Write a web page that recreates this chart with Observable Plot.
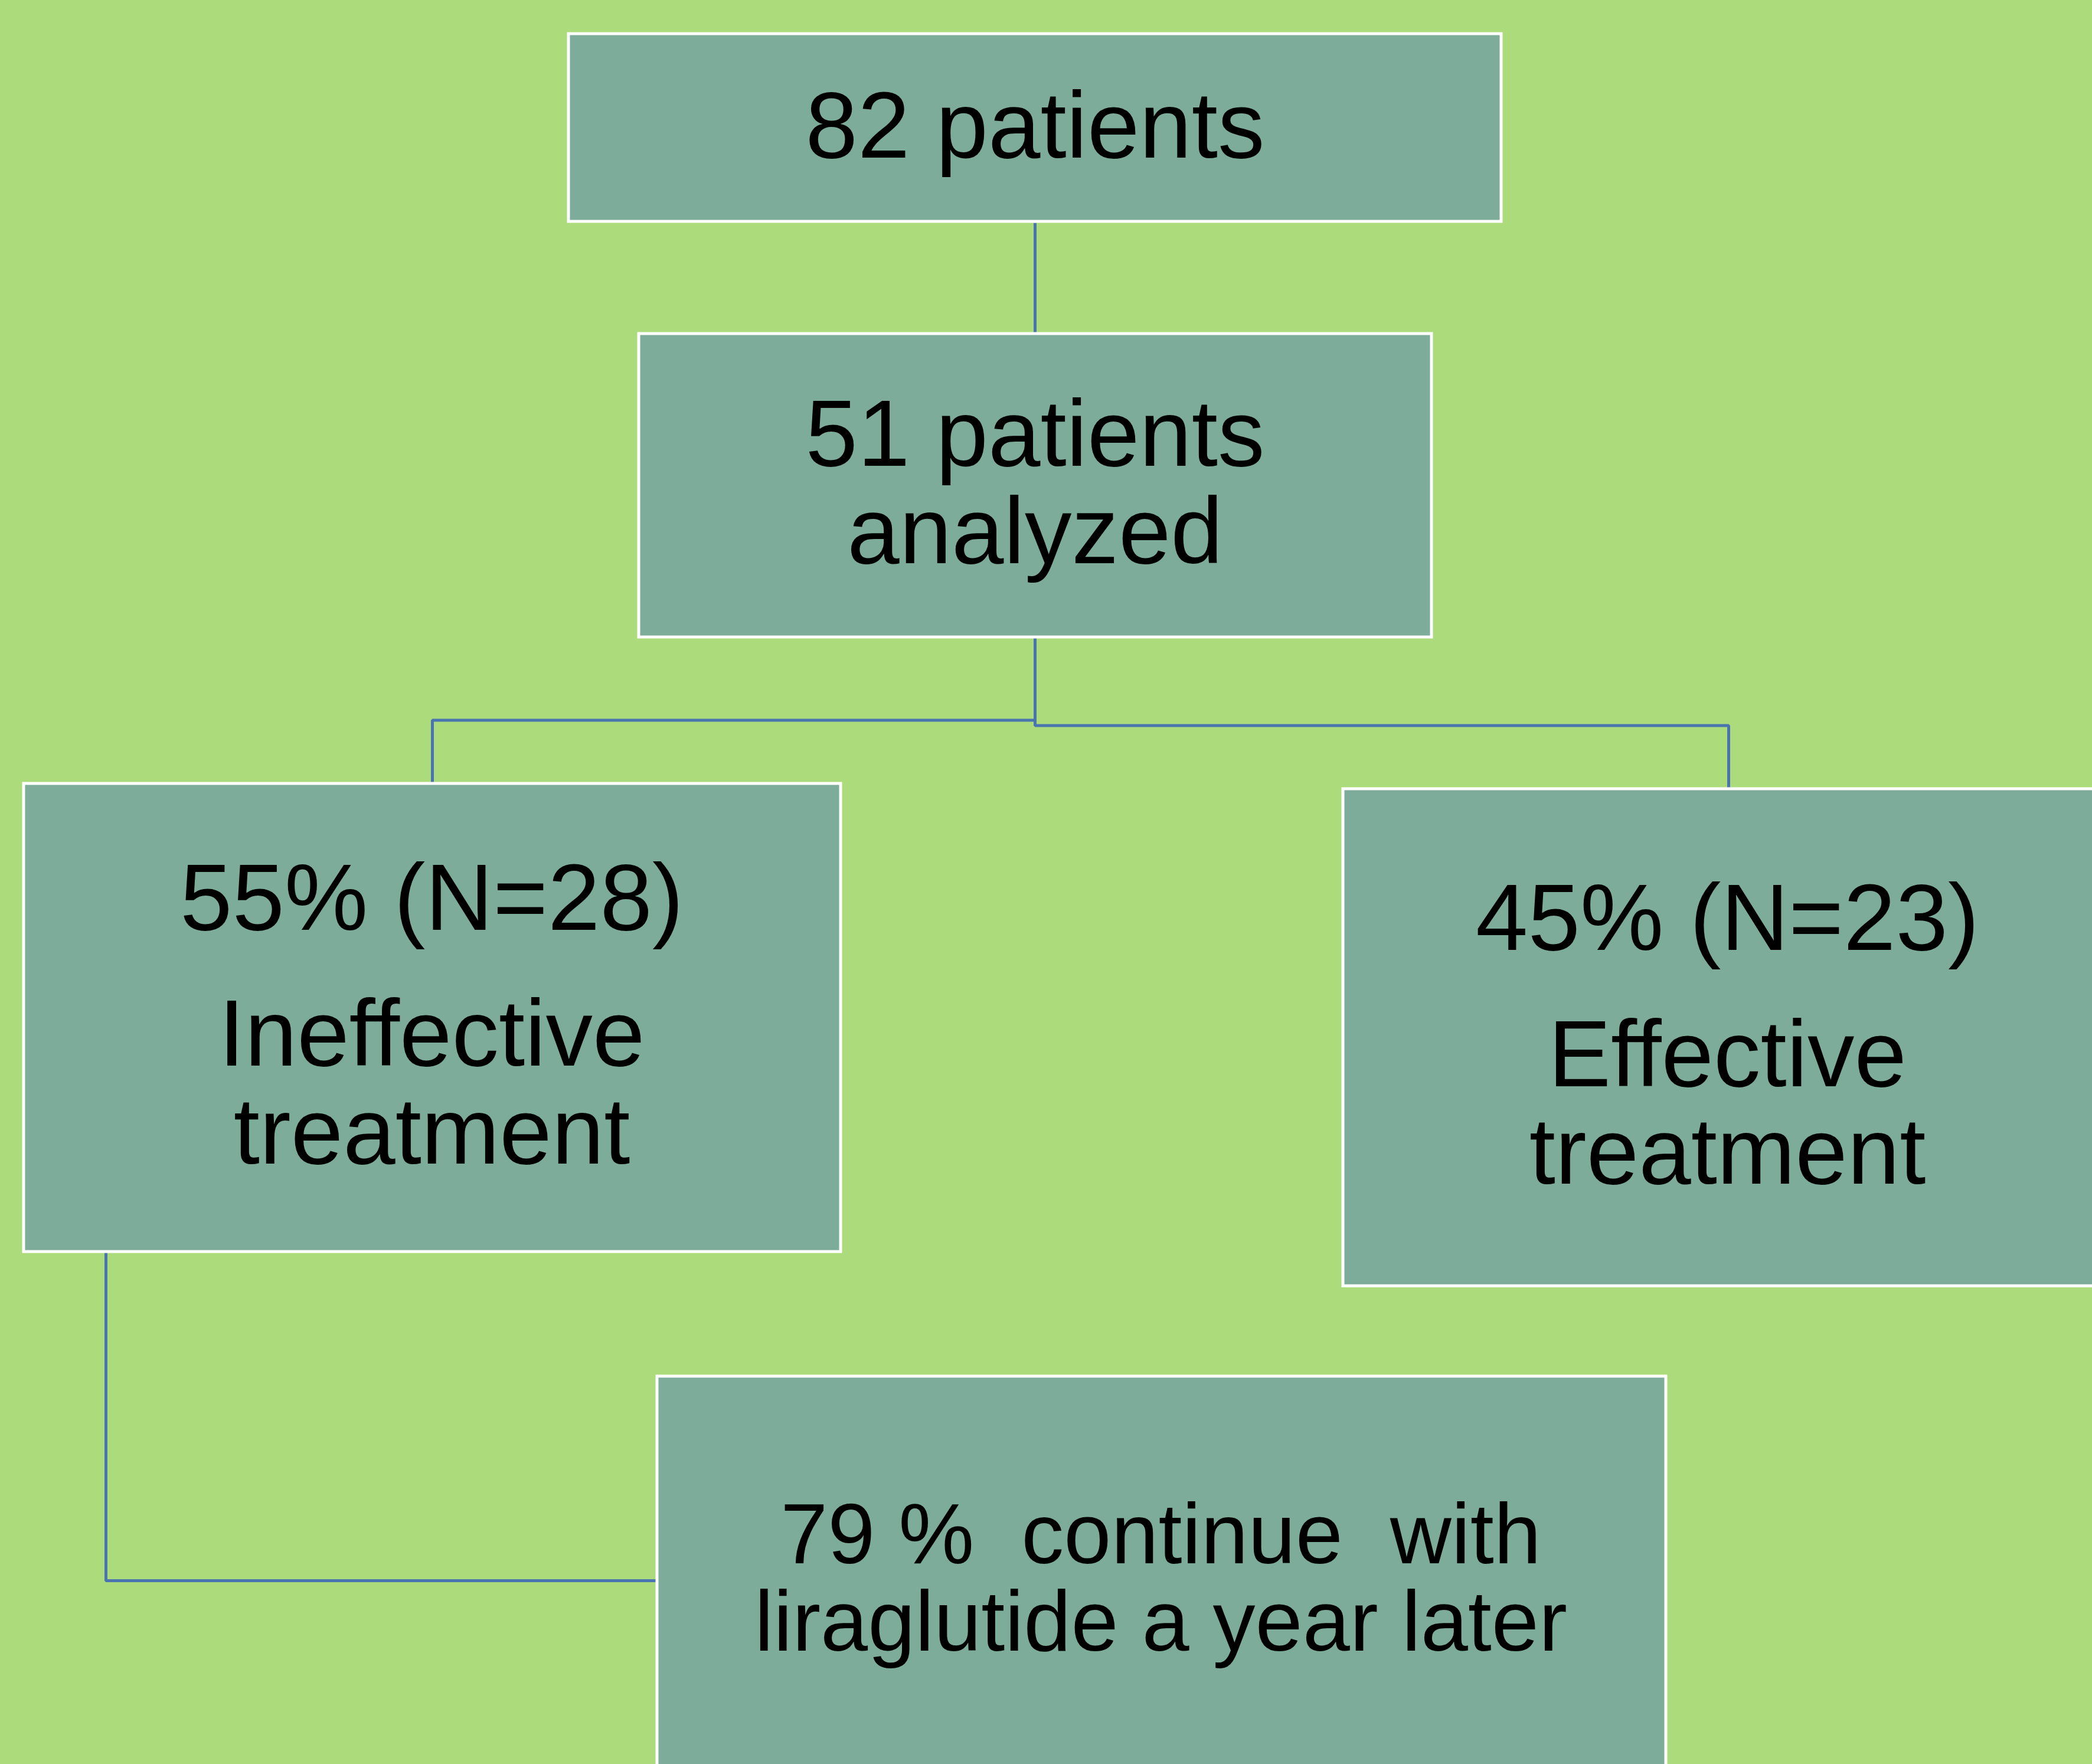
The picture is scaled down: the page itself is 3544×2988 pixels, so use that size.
<!DOCTYPE html>
<html>
<head>
<meta charset="utf-8">
<script src="https://cdn.jsdelivr.net/npm/d3@7"></script>
<script src="https://cdn.jsdelivr.net/npm/@observablehq/plot@0.6"></script>
<style>
  html, body { margin: 0; padding: 0; background: #acdb7c; overflow: hidden; }
  #chart svg { display: block; }
</style>
</head>
<body>
<div id="chart"></div>
<script>
// ---- content ----
const totalPatients = 82;
const analyzedPatients = 51;
const groupNames = ["Ineffective", "Effective"];
const groupPct = [55, 45];
const groupN = [28, 23];
const continuePct = 79;

// ---- layout (diagram geometry, in pixels) ----
const W = 3544, H = 2988;
const boxIds = ["total", "analyzed", "ineffective", "effective", "continue"];
const boxX1 = [963, 1082, 40, 2275, 1113];
const boxX2 = [2543, 2425, 1424, 3570, 2822];
const boxY1 = [57, 565, 1327, 1336, 2331];
const boxY2 = [375, 1079, 2120, 2178, 3010];

const boxes = boxIds.map((id, i) => ({id, x1: boxX1[i], x2: boxX2[i], y1: boxY1[i], y2: boxY2[i]}));

// text lines: centre x, baseline y, font size
const bigSize = 159, smallSize = 144;
const lines = [
  {text: `${totalPatients} patients`, x: 1753, y: 266, size: bigSize},
  {text: `${analyzedPatients} patients`, x: 1753, y: 788, size: bigSize},
  {text: "analyzed", x: 1753, y: 953, size: bigSize},
  {text: `${groupPct[0]}% (N=${groupN[0]})`, x: 731, y: 1574, size: bigSize},
  {text: groupNames[0], x: 731, y: 1804, size: bigSize},
  {text: "treatment", x: 731, y: 1970, size: bigSize},
  {text: `${groupPct[1]}% (N=${groupN[1]})`, x: 2926, y: 1608, size: bigSize},
  {text: groupNames[1], x: 2926, y: 1839, size: bigSize},
  {text: "treatment", x: 2926, y: 2004, size: bigSize},
  {text: `${continuePct} %  continue  with`, x: 1966, y: 2647, size: smallSize},
  {text: "liraglutide a year later", x: 1966, y: 2795, size: smallSize}
];

// connector polylines
const connectors = [
  {id: "c1", pts: [[1753, 377], [1753, 565]]},
  {id: "c2", pts: [[1753, 1080], [1753, 1219.5], [732, 1219.5], [732, 1327]]},
  {id: "c3", pts: [[1753, 1219.5], [1753, 1228.5], [2928, 1228.5], [2928, 1336]]},
  {id: "c4", pts: [[179, 2121], [179, 2677], [1113, 2677]]}
];
const connectorPts = connectors.flatMap(c => c.pts.map(([x, y]) => ({id: c.id, x, y})));

const chart = Plot.plot({
  width: W,
  height: H,
  margin: 0,
  style: {background: "#acdb7c", fontFamily: "'Liberation Sans', Arial, sans-serif"},
  x: {domain: [0, W], range: [0, W], axis: null},
  y: {domain: [0, H], range: [0, H], axis: null},
  marks: [
    Plot.line(connectorPts, {x: "x", y: "y", z: "id", stroke: "#4a74b0", strokeWidth: 5, strokeLinejoin: "miter", strokeLinecap: "butt"}),
    Plot.rect(boxes, {x1: "x1", x2: "x2", y1: "y1", y2: "y2", fill: "#7eac9a", stroke: "#ffffff", strokeWidth: 5}),
    ...[bigSize, smallSize].map(sz => Plot.text(lines.filter(d => d.size === sz), {
      x: "x", y: "y", text: "text", fill: "#000000",
      fontSize: sz, textAnchor: "middle", lineAnchor: "bottom"
    }))
  ]
});
document.getElementById("chart").appendChild(chart);
</script>
</body>
</html>
